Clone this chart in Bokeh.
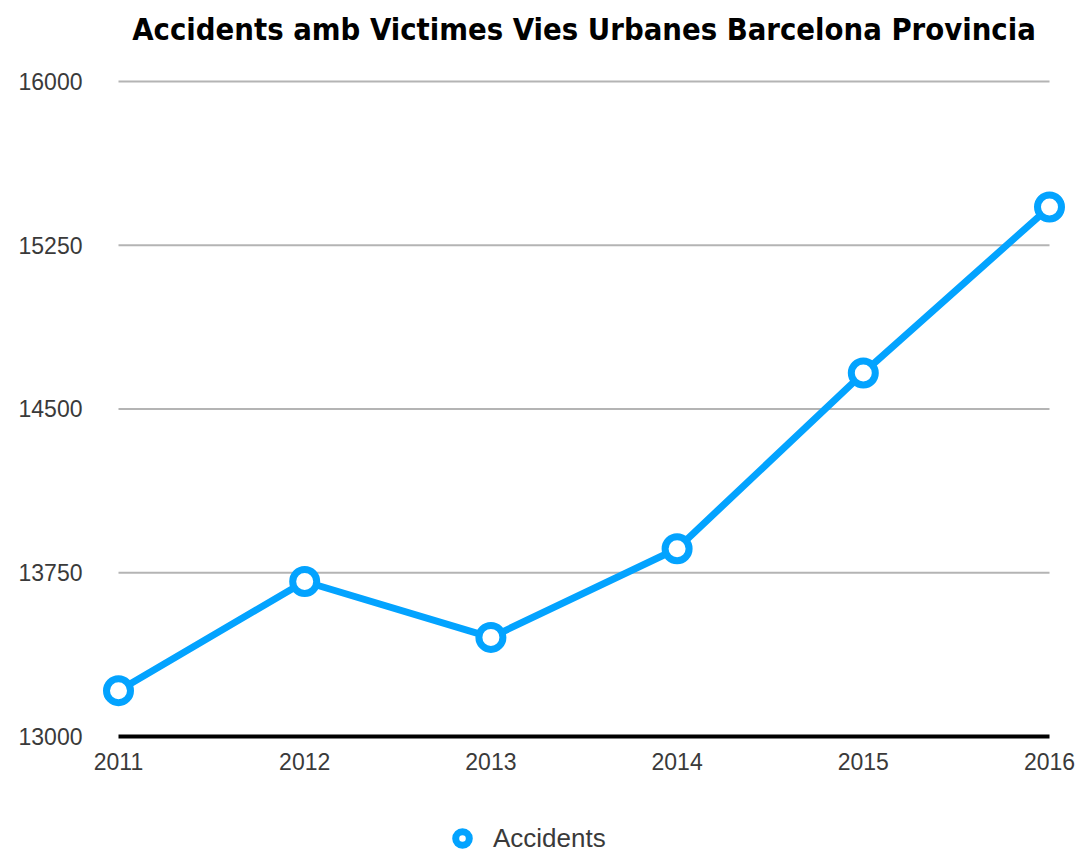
from bokeh.plotting import figure
from bokeh.models import FixedTicker, Range1d, Legend, LegendItem, Label
from bokeh.embed import file_html
from bokeh.resources import INLINE

years = [2011, 2012, 2013, 2014, 2015, 2016]
accidents = [13210, 13710, 13454, 13860, 14665, 15425]
y_ticks = [13000, 13750, 14500, 15250, 16000]
title_text = "Accidents amb Victimes Vies Urbanes Barcelona Provincia"
series_name = "Accidents"

BLUE = "#03a3ff"
W, H = 1079, 855

p = figure(width=W, height=H, output_backend="svg", toolbar_location=None,
           x_range=Range1d(2010.8389, 2016.1611), y_range=Range1d(12454.95, 16371.0),
           min_border_left=88, min_border_right=0, min_border_top=0,
           min_border_bottom=0)
p.outline_line_color = None
p.background_fill_color = "white"
p.border_fill_color = "white"

p.xgrid.grid_line_color = None
p.ygrid.grid_line_color = None

# horizontal gridlines spanning first to last year
p.segment(x0=[years[0]] * len(y_ticks[1:]), x1=[years[-1]] * len(y_ticks[1:]),
          y0=y_ticks[1:], y1=y_ticks[1:], line_color="#b4b4b4", line_width=2)
# baseline
p.segment(x0=[years[0]], x1=[years[-1]], y0=[y_ticks[0]], y1=[y_ticks[0]],
          line_color="black", line_width=4)

p.yaxis.ticker = FixedTicker(ticks=y_ticks)
p.yaxis.axis_line_color = None
p.yaxis.major_tick_line_color = None
p.yaxis.minor_tick_line_color = None
p.yaxis.major_label_standoff = 0
p.yaxis.major_label_text_font = "Liberation Sans"
p.yaxis.major_label_text_font_size = "23px"
p.yaxis.major_label_text_color = "#3a3a3a"

p.xaxis.fixed_location = y_ticks[0]
p.xaxis.ticker = FixedTicker(ticks=years)
p.xaxis.axis_line_color = None
p.xaxis.major_tick_line_color = None
p.xaxis.minor_tick_line_color = None
p.xaxis.major_label_standoff = 11
p.xaxis.major_label_text_font = "Liberation Sans"
p.xaxis.major_label_text_font_size = "23px"
p.xaxis.major_label_text_color = "#3a3a3a"

line = p.line(years, accidents, line_color=BLUE, line_width=7)
pts = p.scatter(years, accidents, size=24, fill_color="white",
                line_color=BLUE, line_width=7)

title = Label(x=2013.5, y=16240, text=title_text, text_align="center",
              text_baseline="alphabetic",
              text_font="DejaVu Sans Condensed, Liberation Sans, sans-serif",
              text_font_style="bold", text_font_size="30.7px", text_color="black")
p.add_layout(title)

legend = Legend(items=[LegendItem(label=series_name, renderers=[pts])],
                location=(354, 0), orientation="horizontal",
                padding=0, margin=0, border_line_color=None,
                background_fill_alpha=0, glyph_width=40, glyph_height=34,
                label_height=34, label_standoff=11,
                label_text_font="Liberation Sans", label_text_font_size="26px",
                label_text_color="#3a3a3a")
p.add_layout(legend, "center")

open("out.html", "w").write(file_html(p, INLINE))
